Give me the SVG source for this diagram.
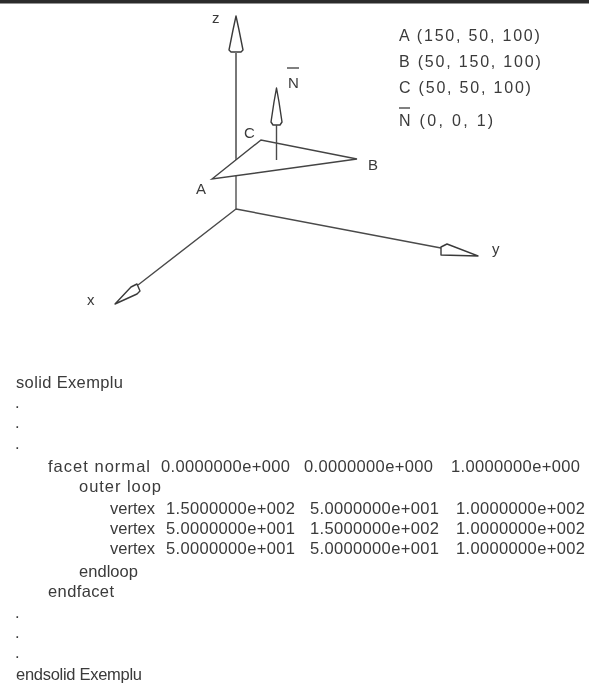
<svg xmlns="http://www.w3.org/2000/svg" width="589" height="685" viewBox="0 0 589 685">
<style>
.t{font-family:"Liberation Sans",Arial,sans-serif;font-size:16.5px;fill:#3a3a3a;filter:url(#b)}
.l{font-size:15px}
.g{font-size:16px;letter-spacing:1.8px}
.c{letter-spacing:.35px}
.a{fill:#fff;stroke:#3a3a3a;stroke-width:1.4;stroke-linejoin:round}
.s{fill:none;stroke:#4a4a4a;stroke-width:1.4}
.z{fill:none;stroke:#777;stroke-width:1.8}
</style>
<defs><filter id="b" x="-5%" y="-20%" width="110%" height="140%"><feGaussianBlur stdDeviation="0.35"/></filter></defs>
<rect width="589" height="685" fill="#fff"/>
<rect id="topbar" width="589" height="3.5" fill="#2b2b2b"/>
<g id="connectors">
<path class="z" d="M236 209V52"/>
<path class="s" d="M236 209L138 285M236 209L441 248"/>
<path class="a" d="M236 16L239 30L243 50L241 52H231L229 50L233 30Z"/>
<path class="a" d="M115 304L131 287L137 284L140 291L137 294Z"/>
<path class="a" d="M478 256L447 244L441 247L441 255Z"/>
<path class="a" d="M276.5 88L279 102L282 122L280 125H273L271 122L274 102Z"/>
</g>
<g id="triangle"><path d="M212 179L261 140L357 159Z" fill="#fff" stroke="#444" stroke-width="1.4"/><path class="s" d="M276.5 125V160"/><path class="z" d="M236 52V158"/></g>
<g id="labels">
<text class="t l" x="212" y="23">z</text>
<text class="t l" x="288" y="88">N</text><path class="s" d="M287 68H299"/>
<text class="t l" x="244" y="138">C</text>
<text class="t l" x="196" y="194">A</text>
<text class="t l" x="368" y="170">B</text>
<text class="t l" x="87" y="305">x</text>
<text class="t l" x="492" y="254">y</text>
</g>
<g id="legend">
<text class="t g" x="399" y="41">A (150,  50,  100)</text>
<text class="t g" x="399" y="67">B (50,  150,  100)</text>
<text class="t g" x="399" y="93">C (50,  50,  100)</text>
<text class="t g" x="399" y="126" textLength="96">N (0,  0,  1)</text><path class="s" d="M399 108H410"/>
</g>
<g id="listing">
<text class="t" x="16" y="388" textLength="107">solid Exemplu</text>
<text class="t" x="15" y="408">.</text><text class="t" x="15" y="428">.</text><text class="t" x="15" y="449">.</text>
<text class="t" x="48" y="472" textLength="102">facet normal</text>
<text class="t c" x="161" y="472">0.0000000e+000</text><text class="t c" x="304" y="472">0.0000000e+000</text><text class="t c" x="451" y="472">1.0000000e+000</text>
<text class="t" x="79" y="492" textLength="82">outer loop</text>
<text class="t" x="110" y="514" textLength="45">vertex</text><text class="t c" x="166" y="514">1.5000000e+002</text><text class="t c" x="310" y="514">5.0000000e+001</text><text class="t c" x="456" y="514">1.0000000e+002</text>
<text class="t" x="110" y="534" textLength="45">vertex</text><text class="t c" x="166" y="534">5.0000000e+001</text><text class="t c" x="310" y="534">1.5000000e+002</text><text class="t c" x="456" y="534">1.0000000e+002</text>
<text class="t" x="110" y="554" textLength="45">vertex</text><text class="t c" x="166" y="554">5.0000000e+001</text><text class="t c" x="310" y="554">5.0000000e+001</text><text class="t c" x="456" y="554">1.0000000e+002</text>
<text class="t" x="79" y="577" textLength="59">endloop</text>
<text class="t" x="48" y="597" textLength="66">endfacet</text>
<text class="t" x="15" y="618">.</text><text class="t" x="15" y="638">.</text><text class="t" x="15" y="658">.</text>
<text class="t" x="16" y="680" textLength="126">endsolid Exemplu</text>
</g>
</svg>
